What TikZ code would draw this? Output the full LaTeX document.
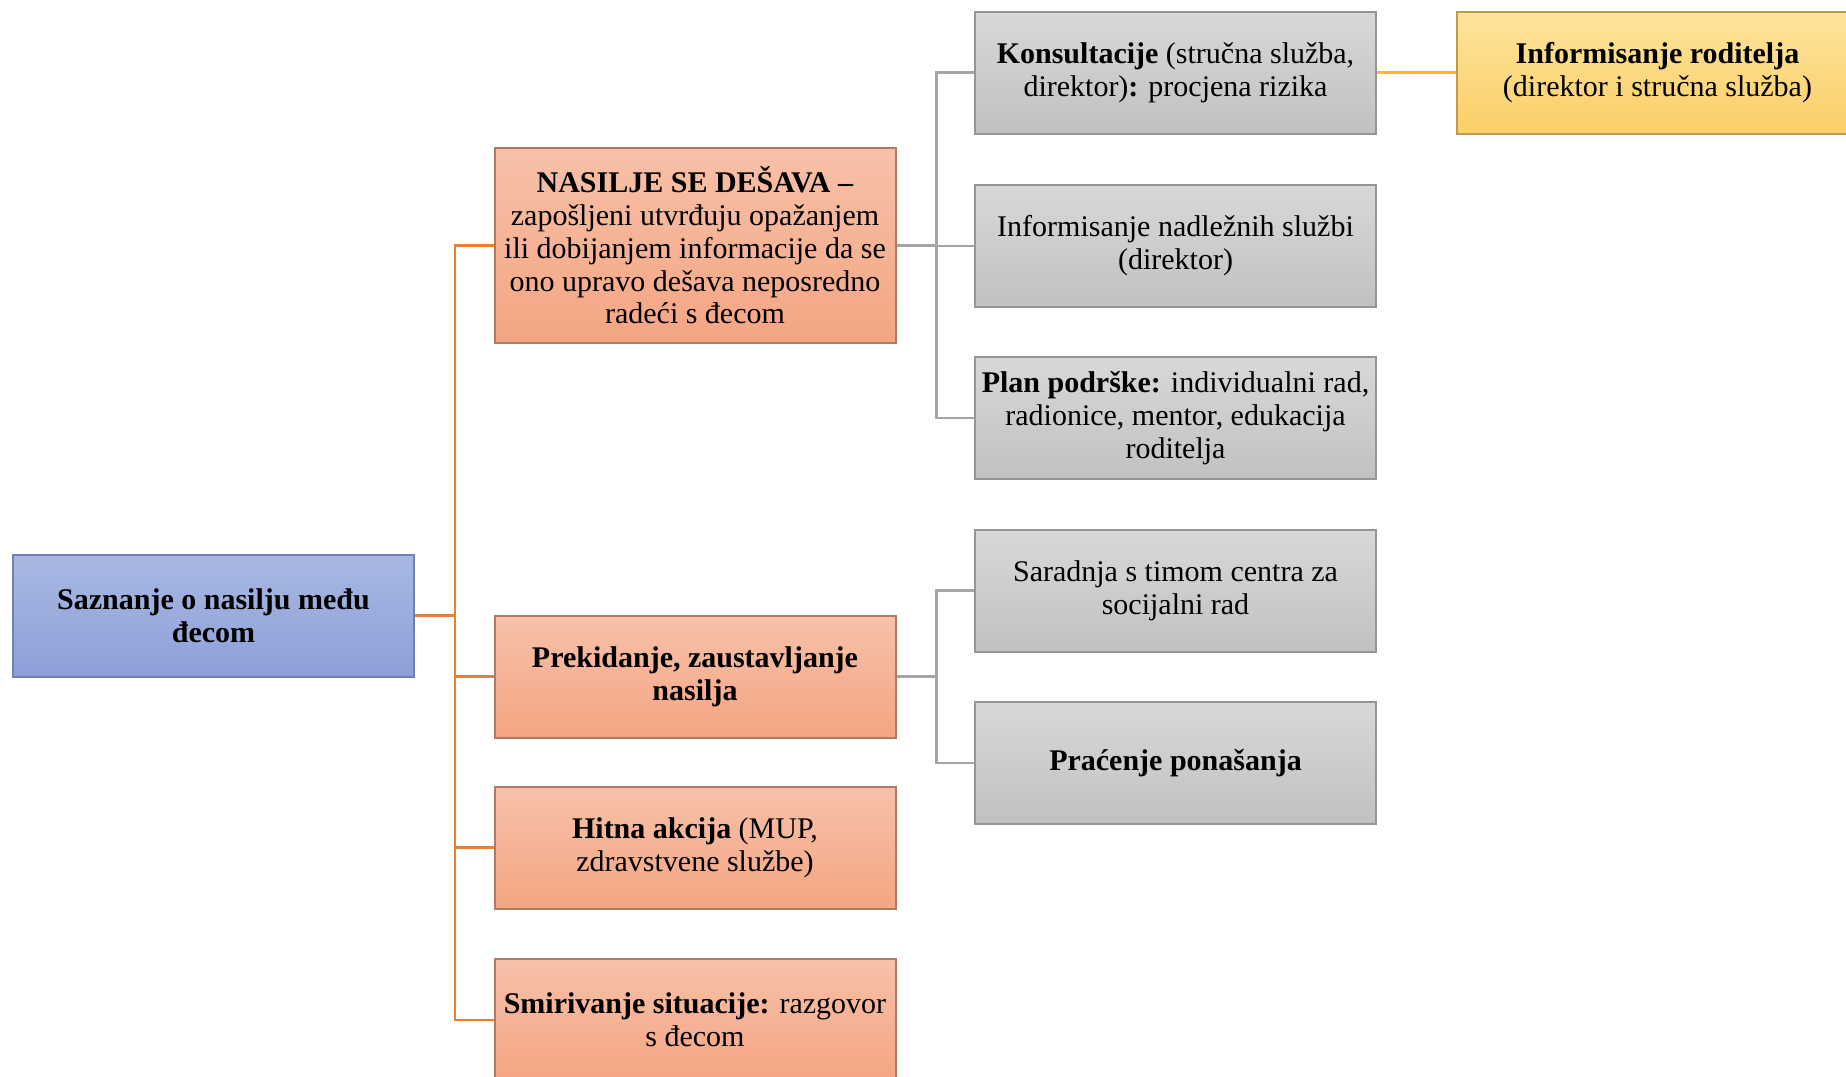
\documentclass[tikz,border=0pt]{standalone}
\usepackage{fontspec}
\setmainfont{Liberation Serif}
\definecolor{bluetop}{HTML}{A9B8E2}
\definecolor{bluebot}{HTML}{8DA0D8}
\definecolor{blueborder}{HTML}{6F80B4}
\definecolor{ortop}{HTML}{F7C1A9}
\definecolor{orbot}{HTML}{F4A582}
\definecolor{orborder}{HTML}{B07A64}
\definecolor{grtop}{HTML}{D8D8D8}
\definecolor{grbot}{HTML}{C1C1C1}
\definecolor{grborder}{HTML}{959595}
\definecolor{gotop}{HTML}{FFE49C}
\definecolor{gobot}{HTML}{F9CF68}
\definecolor{goborder}{HTML}{C09A4A}
\definecolor{oline}{HTML}{ED7D31}
\definecolor{gline}{HTML}{A5A5A5}
\definecolor{yline}{HTML}{FFC000}
\begin{document}
\begin{tikzpicture}[x=0.5pt,y=-0.5pt,
  box/.style={draw, line width=1pt, minimum width=200.5pt, minimum height=61pt,
    align=center, inner sep=2pt, font=\fontsize{15}{16.4}\selectfont},
  rootbox/.style={box, draw=blueborder, top color=bluetop, bottom color=bluebot},
  orbox/.style={box, draw=orborder, top color=ortop, bottom color=orbot},
  grbox/.style={box, draw=grborder, top color=grtop, bottom color=grbot},
  gobox/.style={box, draw=goborder, top color=gotop, bottom color=gobot},
  oconn/.style={draw=oline, line width=1.3pt},
  gconn/.style={draw=gline, line width=1.1pt},
  yconn/.style={draw=yline, line width=1.2pt}]
\useasboundingbox (0,0) rectangle (1846,1076);
\clip (0,0) rectangle (1846,1076);
% root
\node[rootbox] (root) at (213.5,615.5) {\textbf{Saznanje o nasilju među}\\\textbf{đecom}};
% orange column
\node[orbox, minimum height=97.5pt] (nas) at (695,245.5) {\textbf{NASILJE SE DEŠAVA –}\\zapošljeni utvrđuju opažanjem\\ili dobijanjem informacije da se\\ono upravo dešava neposredno\\radeći s đecom};
\node[orbox] (prek) at (695,676.5) {\textbf{Prekidanje, zaustavljanje}\\\textbf{nasilja}};
\node[orbox] (hit) at (695,847.5) {\textbf{Hitna akcija} (MUP,\\zdravstvene službe)};
\node[orbox] (smir) at (695,1020) {\textbf{Smirivanje situacije:} razgovor\\s đecom};
% gray column
\node[grbox] (kons) at (1175.5,72.5) {\textbf{Konsultacije} (stručna služba,\\direktor)\textbf{:} procjena rizika};
\node[grbox] (inf) at (1175.5,246) {Informisanje nadležnih službi\\(direktor)};
\node[grbox] (plan) at (1175.5,418) {\textbf{Plan podrške:} individualni rad,\\radionice, mentor, edukacija\\roditelja};
\node[grbox] (sar) at (1175.5,590.5) {Saradnja s timom centra za\\socijalni rad};
\node[grbox] (prac) at (1175.5,763) {\textbf{Praćenje ponašanja}};
% gold
\node[gobox] (rod) at (1657.5,72.5) {\textbf{Informisanje roditelja}\\(direktor i stručna služba)};
% connectors
\coordinate (ob) at ([xshift=20pt]root.east);
\draw[oconn] (root.east) -- (ob);
\foreach \n in {nas,prek,hit,smir} \draw[oconn] (ob) |- (\n.west);
\coordinate (gb1) at ([xshift=20pt]nas.east);
\draw[gconn] (nas.east) -- (gb1);
\foreach \n in {kons,inf,plan} \draw[gconn] (gb1) |- (\n.west);
\coordinate (gb2) at ([xshift=20pt]prek.east);
\draw[gconn] (prek.east) -- (gb2);
\foreach \n in {sar,prac} \draw[gconn] (gb2) |- (\n.west);
\draw[yconn] (kons.east) -- (rod.west);
\end{tikzpicture}
\end{document}
